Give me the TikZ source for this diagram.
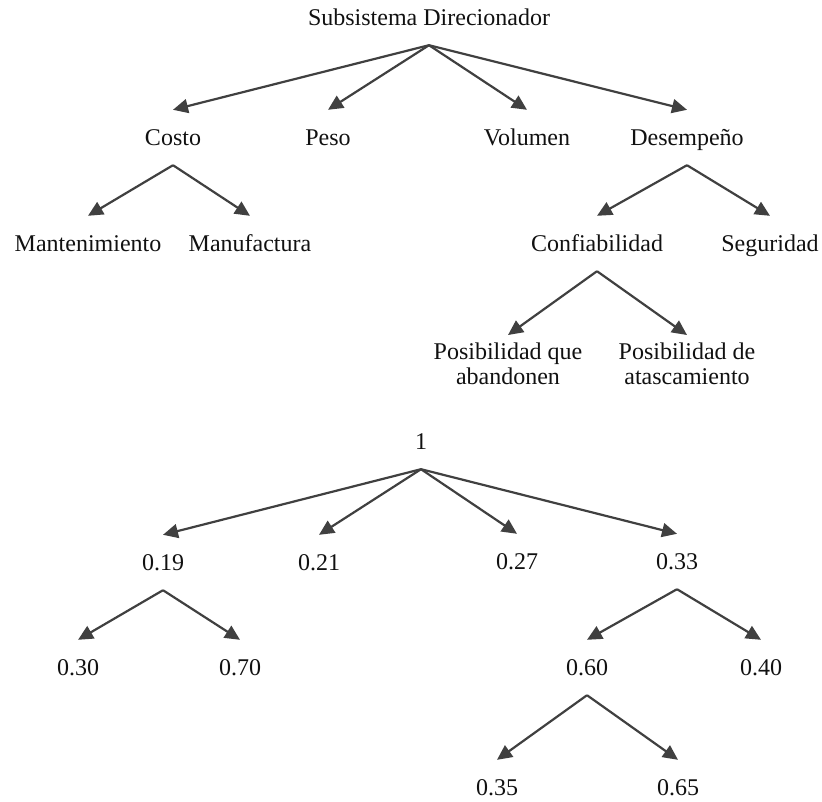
\documentclass[tikz,border=0pt]{standalone}
\usepackage{fontspec}
\setmainfont{Liberation Serif}
\usetikzlibrary{arrows.meta}
\definecolor{linegray}{HTML}{404040}
\definecolor{txt}{HTML}{111111}
\begin{document}
\begin{tikzpicture}[x=1pt,y=-1pt,
  lbl/.style={anchor=base, text=txt, font=\fontsize{24}{25}\selectfont, text height=18pt, text depth=3pt, inner xsep=0pt, inner ysep=17pt},
  lbltwo/.style={anchor=north, text=txt, align=center, font=\fontsize{24}{25}\selectfont, inner xsep=0pt, inner ysep=8pt},
  arr/.style={draw=linegray, line width=2.2pt, -{Triangle[length=15pt,width=14pt]}}]
\useasboundingbox (0,0) rectangle (822,801);
% upper tree
\node[lbl] (root) at (429,25) {Subsistema Direcionador};
\node[lbl] (costo) at (173,145) {Costo};
\node[lbl] (peso) at (328,145) {Peso};
\node[lbl] (vol) at (527,145) {Volumen};
\node[lbl] (des) at (687,145) {Desempeño};
\node[lbl] (mant) at (88,251) {Mantenimiento};
\node[lbl] (manu) at (250,251) {Manufactura};
\node[lbl] (conf) at (597,251) {Confiabilidad};
\node[lbl] (seg) at (770,251) {Seguridad};
\node[lbltwo] (pq) at (508,335) {Posibilidad que\\abandonen};
\node[lbltwo] (pd) at (687,335) {Posibilidad de\\atascamiento};
\foreach \c in {costo,peso,vol,des} \draw[arr] (root.south) -- (\c.north);
\draw[arr] (costo.south) -- (mant.north);
\draw[arr] (costo.south) -- (manu.north);
\draw[arr] (des.south) -- (conf.north);
\draw[arr] (des.south) -- (seg.north);
\draw[arr] (conf.south) -- (pq.north);
\draw[arr] (conf.south) -- (pd.north);
% lower tree
\node[lbl] (one) at (421,449) {1};
\node[lbl] (a) at (163,570) {0.19};
\node[lbl] (b) at (319,570) {0.21};
\node[lbl] (c) at (517,569) {0.27};
\node[lbl] (d) at (677,569) {0.33};
\node[lbl] (a1) at (78,675) {0.30};
\node[lbl] (a2) at (240,675) {0.70};
\node[lbl] (d1) at (587,675) {0.60};
\node[lbl] (d2) at (761,675) {0.40};
\node[lbl] (e1) at (497,795) {0.35};
\node[lbl] (e2) at (678,795) {0.65};
\foreach \c in {a,b,c,d} \draw[arr] (one.south) -- (\c.north);
\draw[arr] (a.south) -- (a1.north);
\draw[arr] (a.south) -- (a2.north);
\draw[arr] (d.south) -- (d1.north);
\draw[arr] (d.south) -- (d2.north);
\draw[arr] (d1.south) -- (e1.north);
\draw[arr] (d1.south) -- (e2.north);
\end{tikzpicture}
\end{document}
